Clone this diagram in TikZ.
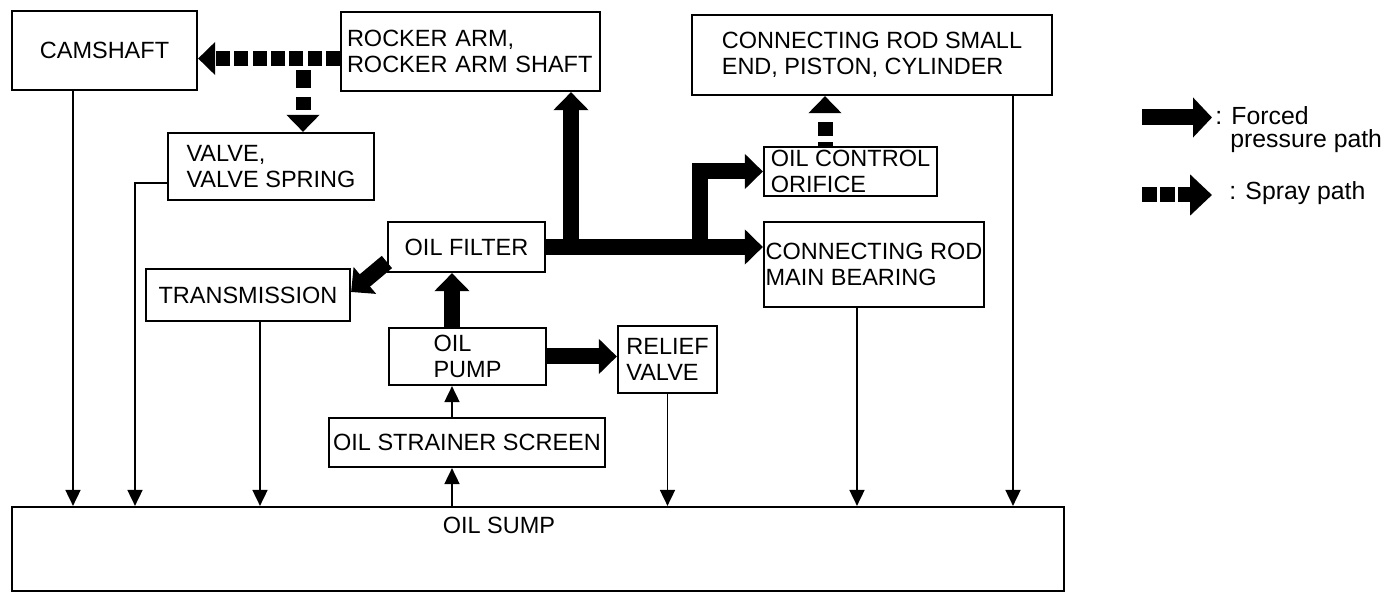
\documentclass[tikz,border=0pt]{standalone}
\usepackage{fontspec}
\setmainfont{Liberation Sans}
\usetikzlibrary{arrows.meta}
\begin{document}
\begin{tikzpicture}[x=0.5pt,y=-0.5pt,
  txt/.style={inner sep=0pt, font=\fontsize{11.75pt}{13pt}\selectfont},
  legtxt/.style={inner sep=0pt, font=\fontsize{12.4pt}{13pt}\selectfont},
  box/.style={draw, line width=1.1pt, inner sep=0pt, font=\fontsize{11.75pt}{13pt}\selectfont},
  forced/.style={line width=8pt, line join=miter, -{Triangle[length=9pt,width=17pt]}},
  spray/.style={line width=7.5pt, dash pattern=on 7pt off 2.15pt, -{Triangle[length=8.5pt,width=16pt]}},
  flow/.style={line width=0.9pt, -{Triangle[length=8pt,width=7.5pt]}}]
\useasboundingbox (0,0) rectangle (1394,593);
% boxes
\node[box, minimum width=92.5pt, minimum height=39.5pt] (camshaft) at (104.5,50.5) {CAMSHAFT};
\node[box, minimum width=129.5pt, minimum height=39.5pt, text width=123.5pt, align=left] (rocker) at (470.5,51.5) {ROCKER ARM,\\ROCKER ARM SHAFT};
\node[box, minimum width=180pt, minimum height=40pt, align=left] (smallend) at (872,55) {CONNECTING ROD SMALL\\END, PISTON, CYLINDER};
\node[box, minimum width=103pt, minimum height=33.5pt, align=left] (valve) at (271,166.5) {VALVE,\\VALVE SPRING};
\node[box, minimum width=86.5pt, minimum height=24.5pt, align=left] (orifice) at (850.5,171.5) {OIL CONTROL\\ORIFICE};
\node[box, minimum width=78.5pt, minimum height=25pt] (filter) at (466.5,247) {OIL FILTER};
\node[box, minimum width=102pt, minimum height=26pt] (trans) at (248,295) {TRANSMISSION};
\node[box, minimum width=110pt, minimum height=42.5pt, align=left] (bearing) at (874,264.5) {CONNECTING ROD\\MAIN BEARING};
\node[box, minimum width=78.5pt, minimum height=28.5pt, align=left] (pump) at (467.5,356.5) {OIL\\PUMP};
\node[box, minimum width=49.5pt, minimum height=33.5pt, align=left] (relief) at (667.5,359.5) {RELIEF\\VALVE};
\node[box, minimum width=138pt, minimum height=24.5pt] (strainer) at (467,442.5) {OIL STRAINER SCREEN};
\node[box, minimum width=526pt, minimum height=42pt] (sump) at (538,549) {};
\node[txt] (sumplabel) at (499,525) {OIL SUMP};
% helper coordinates
\coordinate (xcam) at (73,0);
\coordinate (xval) at (135,0);
\coordinate (xtra) at (260,0);
\coordinate (xpump) at (452,0);
\coordinate (xbea) at (857,0);
\coordinate (xsml) at (1013,0);
\coordinate (xspr) at (825,0);
\coordinate (j1) at (571,249);
\coordinate (j2) at (700,249);
\coordinate (sj) at (303,65);
% spray paths
\draw[spray] ([yshift=-3.5pt]rocker.west) -- ([yshift=-3.5pt]rocker.west -| camshaft.east);
\draw[spray, dash pattern=on 0pt off 2.5pt on 9pt off 4.5pt on 6.5pt off 20pt] (sj) -- (sj |- valve.north);
\draw[spray, dash pattern=on 2pt off 3pt on 7pt off 20pt] (xspr |- orifice.north) -- (xspr |- smallend.south);
% forced paths
\draw[forced] (filter.east) -- (filter.east -| bearing.west);
\draw[forced] (j1) -- (j1 |- rocker.south);
\draw[forced] (j2) |- (orifice.west);
\draw[forced] (xpump |- pump.north) -- (xpump |- filter.south);
\draw[forced] (pump.east) -- (pump.east -| relief.west);
\draw[forced] ([yshift=-7.5pt]filter.west) -- ([yshift=1.5pt]trans.east);
% return lines to sump
\draw[flow] (xcam |- camshaft.south) -- (xcam |- sump.north);
\draw[flow] ([yshift=-8.25pt]valve.west) -| (xval |- sump.north);
\draw[flow] (xtra |- trans.south) -- (xtra |- sump.north);
\draw[flow] (relief.south) -- (relief.south |- sump.north);
\draw[flow] (xbea |- bearing.south) -- (xbea |- sump.north);
\draw[flow] (xsml |- smallend.south) -- (xsml |- sump.north);
\draw[flow] (xpump |- sump.north) -- (xpump |- strainer.south);
\draw[flow] (xpump |- strainer.north) -- (xpump |- pump.south);
% legend
\coordinate (lf1) at (1142,117.5);
\coordinate (lf2) at (1212,117.5);
\coordinate (ls1) at (1142,195);
\coordinate (ls2) at (1212,195);
\draw[forced, -{Triangle[length=9.5pt,width=19.5pt]}] (lf1) -- (lf2);
\draw[spray, dash pattern=on 7.5pt off 1.5pt, -{Triangle[length=11pt,width=20pt]}] (ls1) -- (ls2);
\node[legtxt, anchor=base west] (lforced) at (1215,125) {: Forced};
\node[legtxt, anchor=base west] (lpress) at (1230,148) {pressure path};
\node[legtxt, anchor=base west] (lspray) at (1229,200) {: Spray path};
\end{tikzpicture}
\end{document}
